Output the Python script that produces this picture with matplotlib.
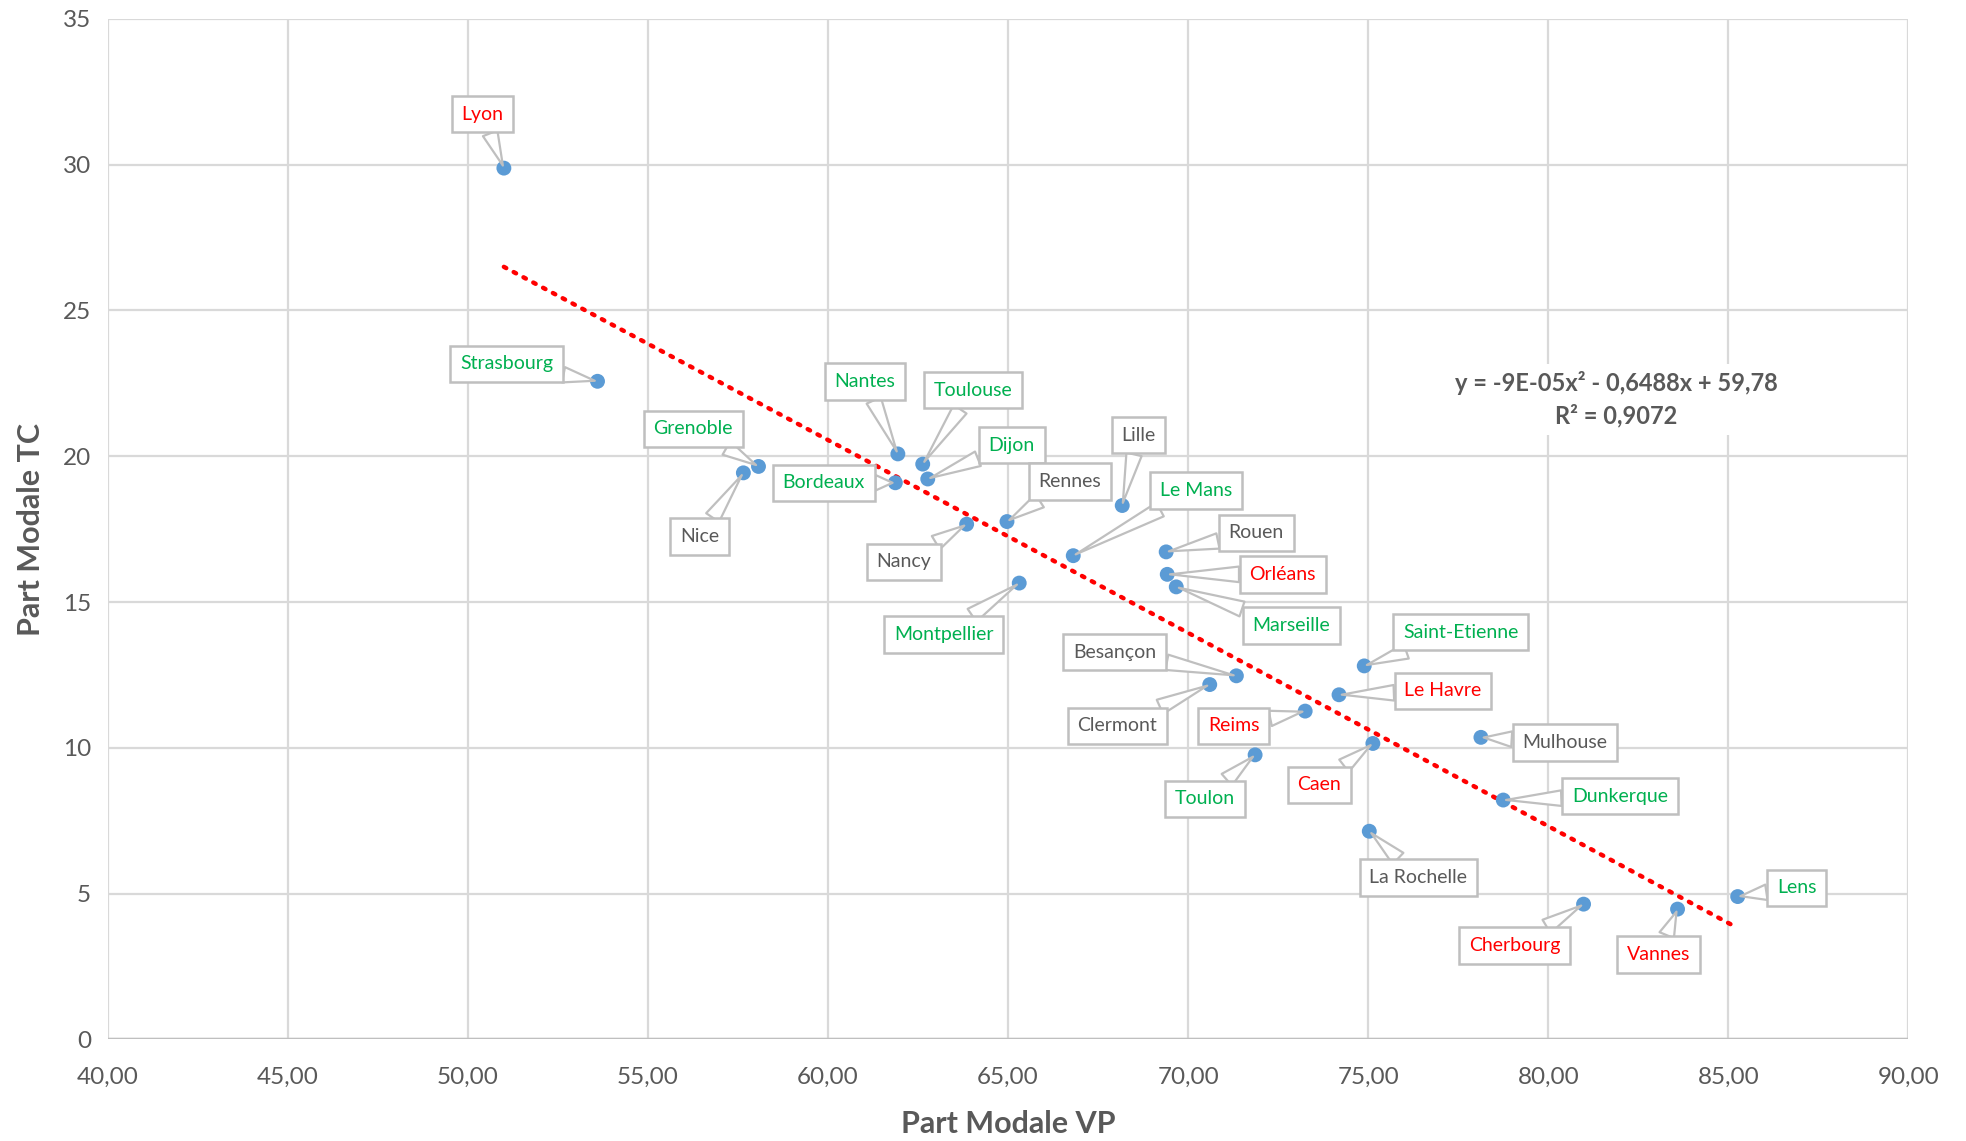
import numpy as np
import matplotlib.pyplot as plt
from matplotlib.ticker import FuncFormatter

plt.rcParams['font.family'] = ['Lato', 'DejaVu Sans']

# Data (Part modale VP, Part modale TC)
cities = ["Lyon", "Strasbourg", "Grenoble", "Nice", "Nantes", "Bordeaux", "Toulouse",
          "Dijon", "Nancy", "Rennes", "Montpellier", "Lille", "Le Mans", "Rouen",
          "Orléans", "Marseille", "Besançon", "Clermont", "Reims", "Toulon",
          "Saint-Etienne", "Le Havre", "Caen", "La Rochelle", "Mulhouse",
          "Dunkerque", "Cherbourg", "Vannes", "Lens"]
part_vp = [51.0, 53.6, 58.07, 57.65, 61.94, 61.87, 62.63,
           62.77, 63.85, 64.97, 65.31, 68.17, 66.81, 69.39,
           69.42, 69.67, 71.34, 70.6, 73.25, 71.86,
           74.89, 74.19, 75.13, 75.03, 78.13,
           78.75, 80.98, 83.59, 85.26]
part_tc = [29.88, 22.57, 19.65, 19.43, 20.08, 19.09, 19.73,
           19.22, 17.67, 17.76, 15.65, 18.31, 16.59, 16.72,
           15.95, 15.52, 12.47, 12.17, 11.26, 9.76,
           12.81, 11.82, 10.15, 7.14, 10.36,
           8.21, 4.64, 4.47, 4.9]
# label colour group: r = red, g = green, k = grey
groups = ["r", "g", "g", "k", "g", "g", "g",
          "g", "k", "k", "g", "k", "g", "k",
          "r", "g", "k", "k", "r", "g",
          "g", "r", "r", "k", "k",
          "g", "r", "r", "g"]

equation = "y = -9E-05x² - 0,6488x + 59,78"
r2_text = "R² = 0,9072"

# layout: where each callout box sits (data coords)
label_pos = {
    "Lyon": (50.41, 31.73), "Strasbourg": (51.07, 23.17), "Grenoble": (56.26, 20.94),
    "Nice": (56.43, 17.24), "Nantes": (61.03, 22.57), "Bordeaux": (59.88, 19.09),
    "Toulouse": (64.03, 22.27), "Dijon": (65.10, 20.38), "Nancy": (62.11, 16.38),
    "Rennes": (66.71, 19.13), "Montpellier": (63.22, 13.89), "Lille": (68.62, 20.72),
    "Le Mans": (70.22, 18.83), "Rouen": (71.89, 17.37), "Orléans": (72.63, 15.95),
    "Marseille": (72.87, 14.19), "Besançon": (67.96, 13.28), "Clermont": (68.03, 10.75),
    "Reims": (71.27, 10.75), "Toulon": (70.47, 8.25), "Saint-Etienne": (77.57, 13.97),
    "Le Havre": (77.08, 11.95), "Caen": (73.64, 8.73), "La Rochelle": (76.39, 5.55),
    "Mulhouse": (80.46, 10.19), "Dunkerque": (81.99, 8.34), "Cherbourg": (79.07, 3.22),
    "Vannes": (83.07, 2.92), "Lens": (86.90, 5.20),
}
group_colors = {"r": "#ff0000", "g": "#00b050", "k": "#595959"}

fig = plt.figure(figsize=(19.66, 11.41), dpi=100)
ax = fig.add_axes([0.0548, 0.089, 0.9159, 0.8945])

ax.set_xlim(40, 90)
ax.set_ylim(0, 35)
ax.set_xticks(np.arange(40, 91, 5))
ax.set_yticks(np.arange(0, 36, 5))
ax.xaxis.set_major_formatter(FuncFormatter(lambda v, p: f"{v:.2f}".replace(".", ",")))
ax.grid(True, color="#d9d9d9", lw=1.6)
ax.set_axisbelow(True)
for s in ax.spines.values():
    s.set_visible(False)
ax.axhline(0, color="#bfbfbf", lw=2.5, zorder=1)
ax.tick_params(length=0, labelsize=17.5, colors="#595959")
ax.tick_params(axis="x", pad=20)
ax.tick_params(axis="y", pad=12)

# polynomial trendline (order 2) fitted on the data
x = np.array(part_vp)
y = np.array(part_tc)
coef = np.polyfit(x, y, 2)
xs = np.linspace(x.min(), x.max(), 200)
ax.plot(xs, np.polyval(coef, xs), color="#ff0000", lw=3.2,
        linestyle=(0, (0.6, 1.9)), dash_capstyle="round", zorder=2)

ax.scatter(x, y, s=115, color="#5b9bd5", zorder=4, edgecolors="none")

for name, vx, vy, g in zip(cities, part_vp, part_tc, groups):
    ax.annotate(name, xy=(vx, vy), xytext=label_pos[name], textcoords="data",
                ha="center", va="center", fontsize=14, color=group_colors[g],
                bbox=dict(boxstyle="square,pad=0.5", fc="white", ec="#bfbfbf", lw=1.8),
                arrowprops=dict(arrowstyle="wedge,tail_width=0.8,shrink_factor=0.5",
                                fc="white", ec="#bfbfbf", lw=1.6,
                                shrinkA=0, shrinkB=2),
                zorder=5)

ax.text(81.89, 21.95, equation + "\n" + r2_text, ha="center", va="center",
        fontsize=17, fontweight="bold", color="#595959", linespacing=1.45,
        bbox=dict(boxstyle="square,pad=0.3", fc="white", ec="none"), zorder=3)

ax.set_xlabel("Part Modale VP", fontsize=22, fontweight="bold", color="#595959", labelpad=16)
ax.set_ylabel("Part Modale TC", fontsize=22, fontweight="bold", color="#595959", labelpad=13)

fig.savefig("out.png", dpi=100)
